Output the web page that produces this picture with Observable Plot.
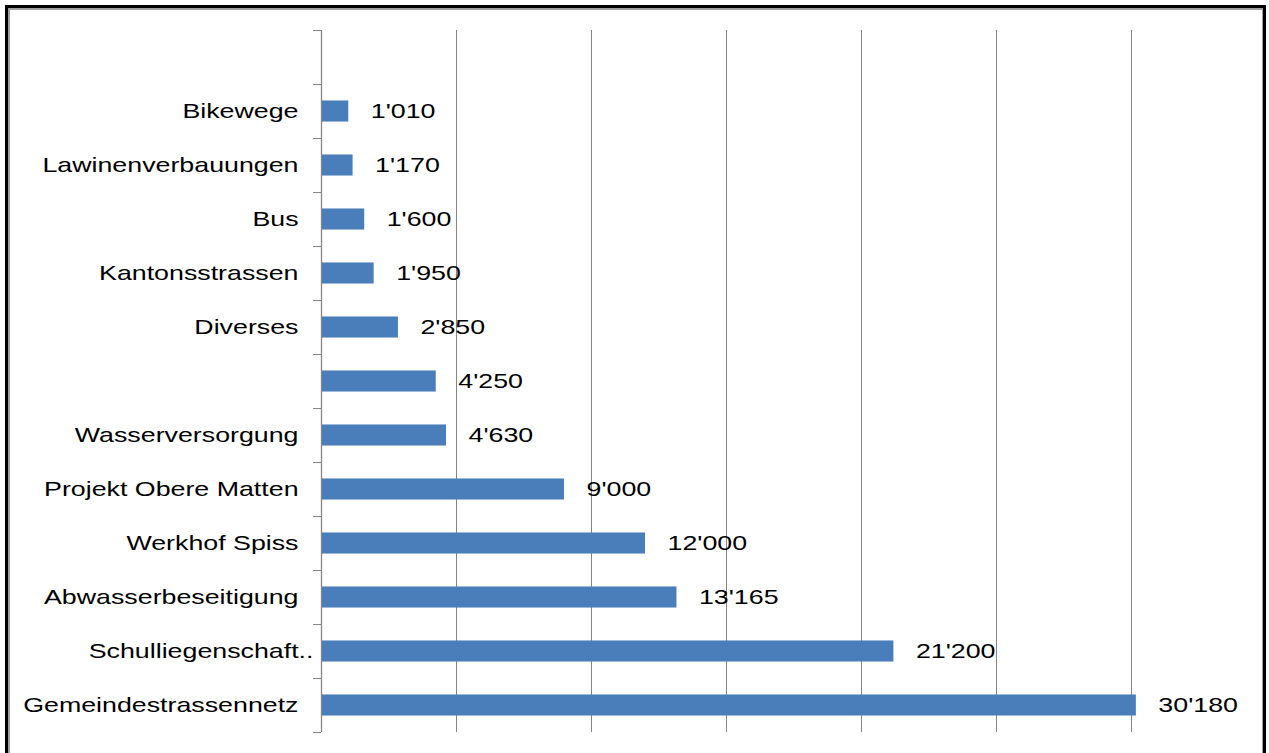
<!DOCTYPE html>
<html>
<head>
<meta charset="utf-8">
<script src="https://cdn.jsdelivr.net/npm/d3@7"></script>
<script src="https://cdn.jsdelivr.net/npm/@observablehq/plot@0.6"></script>
<style>
  html, body { margin: 0; padding: 0; background: #fff; }
  #wrap { position: relative; width: 1269px; height: 753px; overflow: hidden; }
  #frame {
    position: absolute; left: 5px; top: 5px; width: 1255px; height: 760px;
    border-left: 3px solid #000; border-top: 3px solid #000; border-right: 3px solid #000;
    box-shadow: inset 2px 2px 0 #a0a0a0, inset -1px 0 0 #a0a0a0;
    pointer-events: none;
  }
</style>
</head>
<body>
<div id="wrap"><div id="frame"></div></div>
<script>
// Categories from bottom to top
const categories = [
  "Gemeindestrassennetz",
  "Schulliegenschaft..",
  "Abwasserbeseitigung",
  "Werkhof Spiss",
  "Projekt Obere Matten",
  "Wasserversorgung",
  "",
  "Diverses",
  "Kantonsstrassen",
  "Bus",
  "Lawinenverbauungen",
  "Bikewege"
];
const values = [30180, 21200, 13165, 12000, 9000, 4630, 4250, 2850, 1950, 1600, 1170, 1010];
const gridTicks = [5000, 10000, 15000, 20000, 25000, 30000];
const slotCount = categories.length + 1; // one empty slot at the top

const data = categories.map((c, i) => ({i, label: c, value: values[i]}));
const fmt = d3.formatLocale({decimal: ".", thousands: "'", grouping: [3], currency: ["", ""]}).format(",d");
const boundaries = d3.range(slotCount + 1).map(k => k - 0.5);
const half = 0.195;

const chart = Plot.plot({
  width: 1269,
  height: 753,
  marginLeft: 321,
  marginRight: 3,
  marginTop: 30,
  marginBottom: 21,
  style: {fontFamily: "'Liberation Sans', Arial, sans-serif", fontSize: "21px", color: "#000", background: "transparent"},
  x: {domain: [0, 35000], axis: null},
  y: {type: "linear", domain: [-0.5, slotCount - 0.5], axis: null},
  marks: [
    Plot.ruleX(gridTicks, {y1: -0.5, y2: slotCount - 0.5, stroke: "#868686", strokeWidth: 1, strokeOpacity: 1}),
    Plot.axisY(boundaries, {tickSize: 8, tickFormat: () => "", stroke: "#868686", strokeOpacity: 1, anchor: "left", label: null}),
    Plot.ruleX([0], {y1: -0.5, y2: slotCount - 0.5, stroke: "#868686", strokeWidth: 1.3}),
    Plot.rectX(data, {x1: 0, x2: "value", y1: d => d.i - half, y2: d => d.i + half, fill: "#4A7EBB", insetLeft: 1}),
    Plot.text(data.filter(d => !d.label.endsWith("..")), {x: 0, y: "i", text: "label", textAnchor: "end", dx: -23, fill: "#000"}),
    Plot.text(data.filter(d => d.label.endsWith("..")), {x: 0, y: "i", text: "label", textAnchor: "end", dx: -8, fill: "#000"}),
    Plot.text(data, {x: "value", y: "i", text: d => fmt(d.value), textAnchor: "start", dx: 22, fill: "#000"})
  ]
});
const wrap = document.getElementById("wrap");
wrap.insertBefore(chart, wrap.firstChild);
chart.style.position = "absolute";
chart.style.left = "0px";
chart.style.top = "0px";
// stretch glyphs horizontally like the reference
chart.querySelectorAll("text").forEach(t => {
  if (!t.textContent) return;
  const w = t.getComputedTextLength();
  if (w > 0) {
    t.setAttribute("textLength", (w * 1.275).toFixed(1));
    t.setAttribute("lengthAdjust", "spacingAndGlyphs");
  }
});
</script>
</body>
</html>
